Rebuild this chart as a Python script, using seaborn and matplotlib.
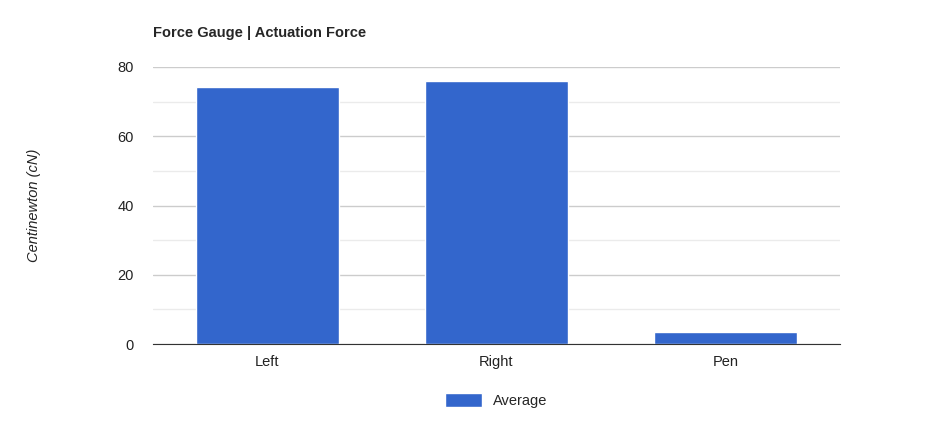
import matplotlib
matplotlib.use('Agg')
import matplotlib.pyplot as plt
import seaborn as sns
import pandas as pd

categories = ['Left', 'Right', 'Pen']
averages = [74.3, 76.1, 3.6]

sns.set_style('white')
plt.rcParams['font.family'] = ['Arial', 'Liberation Sans', 'DejaVu Sans']

df = pd.DataFrame({'cat': categories, 'avg': averages})
fig = plt.figure(figsize=(9.49, 4.28), dpi=100)
ax = fig.add_axes([153/949, 1-344/428, (840-153)/949, (344-67)/428])
sns.barplot(data=df, x='cat', y='avg', color='#3366cc', saturation=1, width=0.625, ax=ax, label='Average')
ax.set_ylim(0, 80)
ax.set_xlim(-0.5, 2.5)
ax.set_yticks([0, 20, 40, 60, 80])
ax.set_yticks([10, 30, 50, 70], minor=True)
ax.grid(axis='y', which='major', color='#cccccc', lw=1)
ax.grid(axis='y', which='minor', color='#ebebeb', lw=1)
ax.set_axisbelow(True)
for s in ['top', 'right', 'left']:
    ax.spines[s].set_visible(False)
ax.spines['bottom'].set_color('#333333')
ax.tick_params(axis='both', which='both', length=0, labelsize=10.5, colors='#222222', pad=8)
ax.tick_params(axis='y', pad=14)
ax.set_xlabel('')
ax.set_ylabel('Centinewton (cN)', fontstyle='italic', fontsize=10.5, color='#222222', labelpad=55)
fig.text(153/949, 1-33/428, 'Force Gauge | Actuation Force', fontweight='bold', fontsize=10.5, va='center')
ax.legend(loc='upper center', bbox_to_anchor=(0.5, -0.13), frameon=False, fontsize=10.5,
          handlelength=2.5, handleheight=1.1)
fig.savefig('out.png', dpi=100)
